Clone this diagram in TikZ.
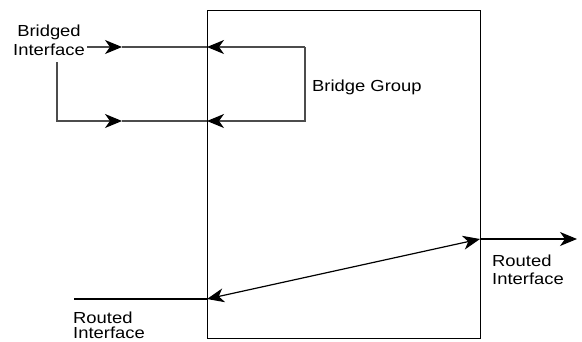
\documentclass[tikz,border=0pt]{standalone}
\usepackage{fontspec}
\setmainfont{Liberation Sans}[FakeStretch=1.15]
\usetikzlibrary{arrows.meta}
\begin{document}
\begin{tikzpicture}[x=1pt,y=-1pt,
  wire/.style={line width=1.2pt, draw=black},
  bwire/.style={line width=1.2pt, draw=black!70},
  tip/.style={-{Stealth[length=17pt,width=14pt,inset=5pt,color=black]}},
  twotips/.style={{Stealth[length=17pt,width=14pt,inset=5pt,color=black]}-{Stealth[length=17pt,width=14pt,inset=5pt,color=black]}},
  lbl/.style={inner sep=0pt, font=\fontsize{16}{19}\selectfont}]
\useasboundingbox (0,0) rectangle (582,341);

% the bridge/router box
\node[draw, line width=1.2pt, minimum width=273pt, minimum height=328pt,
      inner sep=0pt, anchor=north west] (router) at (207,10) {};

% labels (base anchor = baseline of the last line)
\node[lbl, align=center, anchor=base] (bif) at (49,55) {Bridged\\Interface};
\node[lbl, anchor=base west] (bgrp) at (312,91) {Bridge Group};
\node[lbl, align=left, anchor=base west, font=\fontsize{16}{17.6}\selectfont] (rifr) at (492,284.3) {Routed\\Interface};
\node[lbl, align=left, anchor=base west, font=\fontsize{16}{15.8}\selectfont] (rifl) at (73,338.8) {Routed\\Interface};

% points of the bridged loop
\coordinate (bi)   at (87,47);
\coordinate (bm1)  at (122,47);
\coordinate (bin1) at (207,47);
\coordinate (bc1)  at (305,47);
\coordinate (bc2)  at (305,121);
\coordinate (bin2) at (207,121);
\coordinate (bm2)  at (122,121);
\coordinate (bl2)  at (57,121);
\coordinate (bl1)  at (57,62);

% bridged loop
\draw[bwire,tip] (bi) -- (bm1);
\draw[bwire] (bm1) -- (bin1);
\draw[bwire,tip] (bc1) -- (bin1);
\draw[bwire,tip] (bc1) -- (bc2) -- (bin2);
\draw[bwire,tip] (bl1) -- (bl2) -- (bm2);
\draw[bwire] (bm2) -- (bin2);

% routed path
\coordinate (rin) at (74,299);
\coordinate (rl)  at (207,299);
\coordinate (ro1) at (480,239);
\coordinate (ro2) at (577,239);
\draw[wire] (rin) -- (rl);
\draw[wire,twotips] (rl) -- (ro1);
\draw[wire,tip] (ro1) -- (ro2);
\end{tikzpicture}
\end{document}
